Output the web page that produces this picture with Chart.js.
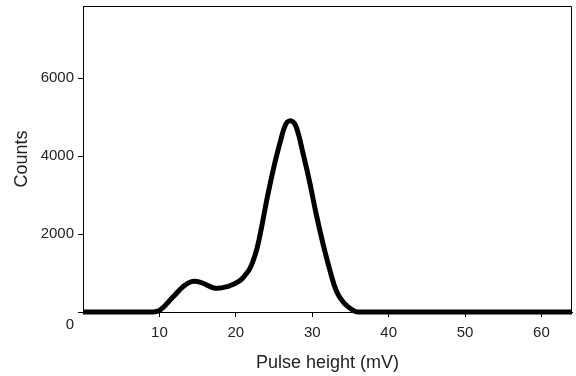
<!DOCTYPE html>
<html>
<head>
<meta charset="utf-8">
<script src="https://cdn.jsdelivr.net/npm/chart.js@4"></script>
<style>
  html, body { margin: 0; padding: 0; background: #fff; }
  #wrap { width: 576px; height: 376px; }
</style>
</head>
<body>
<div id="wrap"><canvas id="pulseChart"></canvas></div>
<script>
// Pulse height spectrum
const pulseHeight = [0, 9.2, 10.1, 11.8, 13.1, 14.2, 15.4, 17.3, 19.0, 20.5, 21.2, 21.8, 22.3, 22.8, 23.4, 24.0, 24.9, 25.8, 26.6, 27.3, 27.9, 28.8, 29.7, 30.5, 31.4, 32.3, 33.2, 34.2, 35.3, 36.0, 64];
const counts = [0, 0, 50, 390, 650, 780, 760, 610, 660, 800, 940, 1100, 1330, 1650, 2200, 2820, 3650, 4350, 4840, 4900, 4750, 4070, 3300, 2530, 1760, 1080, 520, 220, 50, 0, 0];
const yTicks = [0, 2000, 4000, 6000];
const xTicks = [10, 20, 30, 40, 50, 60];

const textColor = "#222";

// draws the top and right edges of the frame
const frameBox = {
  id: "frameBox",
  afterDraw(chart) {
    const { ctx, chartArea: a } = chart;
    ctx.save();
    ctx.strokeStyle = "#000";
    ctx.lineWidth = 1;
    ctx.beginPath();
    ctx.moveTo(a.left, a.top + 0.5);
    ctx.lineTo(a.right - 0.5, a.top + 0.5);
    ctx.lineTo(a.right - 0.5, a.bottom);
    ctx.stroke();
    ctx.restore();
  }
};

const ctx = document.getElementById("pulseChart").getContext("2d");
new Chart(ctx, {
  type: "line",
  data: {
    datasets: [{
      data: pulseHeight.map((x, i) => ({ x: x, y: counts[i] })),
      borderColor: "#000",
      borderWidth: 5,
      pointRadius: 0,
      tension: 0.4,
      fill: false,
      clip: false
    }]
  },
  options: {
    responsive: true,
    maintainAspectRatio: false,
    animation: false,
    layout: { padding: { top: 6, right: 4, left: 0, bottom: 0 } },
    plugins: {
      legend: { display: false },
      tooltip: { enabled: false }
    },
    scales: {
      x: {
        type: "linear",
        min: 0,
        max: 64,
        afterBuildTicks: axis => { axis.ticks = xTicks.map(v => ({ value: v })); },
        afterFit: axis => { axis.height = 64; axis.paddingLeft = 0; axis.paddingRight = 0; },
        grid: { drawOnChartArea: false, drawTicks: true, tickLength: 5, color: "#000" },
        border: { display: true, color: "#000", width: 1 },
        ticks: {
          color: textColor,
          padding: 7,
          maxRotation: 0,
          font: { family: "Liberation Sans", size: 15 }
        },
        title: {
          display: true,
          text: "Pulse height (mV)",
          color: textColor,
          font: { family: "Liberation Sans", size: 18 },
          padding: { top: 10, bottom: 2 }
        }
      },
      y: {
        type: "linear",
        min: 0,
        max: 7850,
        afterBuildTicks: axis => { axis.ticks = yTicks.map(v => ({ value: v })); },
        afterFit: axis => { axis.width = 83; axis.paddingTop = 0; axis.paddingBottom = 0; },
        grid: { drawOnChartArea: false, drawTicks: true, tickLength: 5, color: "#000" },
        border: { display: true, color: "#000", width: 1 },
        ticks: {
          color: textColor,
          padding: 4,
          font: c => (c.tick && c.tick.value === 0)
            ? { family: "Liberation Sans", size: 15, lineHeight: 1.7 }
            : { family: "Liberation Sans", size: 15 },
          // the zero label sits below the axis line in the original
          callback: v => v === 0 ? ["", "0"] : String(v)
        },
        title: {
          display: true,
          text: "Counts",
          color: textColor,
          font: { family: "Liberation Sans", size: 18 },
          padding: { top: 11, bottom: 0 }
        }
      }
    }
  },
  plugins: [frameBox]
});
</script>
</body>
</html>
